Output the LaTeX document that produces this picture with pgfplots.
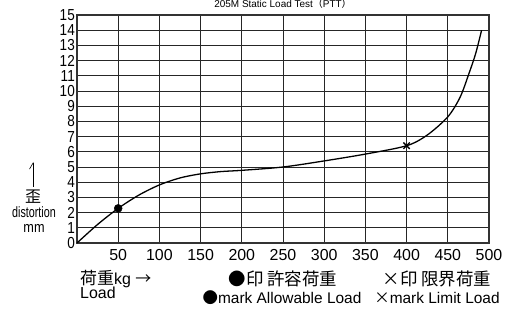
\documentclass[border=0pt]{standalone}
\usepackage{pgfplots}
\pgfplotsset{compat=1.18}
\usepackage{fontspec}
\setmainfont{Liberation Sans}
\newfontfamily\narrowfont{Liberation Sans}[FakeStretch=0.85]
\newfontfamily\vnarrowfont{Liberation Sans}[FakeStretch=0.72]
\newfontfamily\cjk{Noto Sans CJK JP}
\usetikzlibrary{arrows.meta}
\begin{document}
\begin{tikzpicture}[x=1bp,y=1bp]
\begin{axis}[
  at={(77bp,72bp)}, anchor=south west,
  scale only axis, width=412bp, height=228bp,
  xmin=0, xmax=500, ymin=0, ymax=15,
  xtick={50,100,...,500}, ytick={0,1,...,15},
  grid=major,
  major grid style={black!85, line width=0.7pt},
  axis line style={black!80, line width=1.2pt},
  tick style={draw=none},
  /pgf/number format/assume math mode=true,
  xticklabel style={font=\fontsize{16}{16}\selectfont, yshift=-3bp},
  yticklabel style={font=\narrowfont\fontsize{16}{16}\selectfont, inner sep=2bp},
  title={205M Static Load Test{\cjk（}PTT{\cjk）}},
  title style={at={(0.5,1)}, anchor=base, yshift=1.5bp, inner sep=0pt, font=\fontsize{10}{10}\selectfont},
  clip=false,
]
\addplot[black, line width=1.3pt, smooth, tension=0.5] coordinates {
(0,0) (25,1.22) (50,2.28) (75,3.15) (100,3.82) (125,4.28) (150,4.55) (175,4.7) (200,4.78)
(250,5.0) (300,5.4) (350,5.85) (400,6.4) (425,7.1) (450,8.3) (465,9.6) (476,11.2) (484,12.5) (491,14.0)
};
\addplot[only marks, mark=*, mark size=4bp, black] coordinates {(50,2.28)};
\addplot[only marks, mark=x, mark size=4.5bp, black, mark options={line width=1.3pt}] coordinates {(400,6.4)};
\end{axis}
% axis labels
\draw[line width=0.6pt, -{Straight Barb[left, length=6bp, width=7bp]}] (33bp,128bp) -- (33bp,153bp);
\node at (33bp,118bp) {\cjk\fontsize{16}{16}\selectfont 歪};
\node[inner sep=0pt] at (34bp,103bp) {\vnarrowfont\fontsize{15}{15}\selectfont distortion};
\node[inner sep=0pt] at (34bp,87bp) {\narrowfont\fontsize{15}{15}\selectfont mm};
\node[anchor=base west, inner sep=0pt] at (80bp,31bp) {{\cjk\fontsize{17}{17}\selectfont 荷重}\fontsize{16}{16}\selectfont kg {\cjk →}};
\node[anchor=base west, inner sep=0pt] at (80bp,17bp) {\fontsize{16}{16}\selectfont Load};
\node[anchor=base, inner sep=0pt] at (283bp,30bp) {\cjk\fontsize{17.5}{17.5}\selectfont ●印 許容荷重};
\node[anchor=base, inner sep=0pt] at (437bp,30bp) {\cjk\fontsize{17.5}{17.5}\selectfont ×印 限界荷重};
\node[anchor=base, inner sep=0pt] at (282bp,12bp) {\fontsize{15.5}{15.5}\selectfont{\cjk ●}mark Allowable Load};
\node[anchor=base, inner sep=0pt] at (437bp,12bp) {\fontsize{15.5}{15.5}\selectfont{\cjk ×}mark Limit Load};
\pgfresetboundingbox
\useasboundingbox (0,0) rectangle (515bp,315bp);
\end{tikzpicture}
\end{document}
